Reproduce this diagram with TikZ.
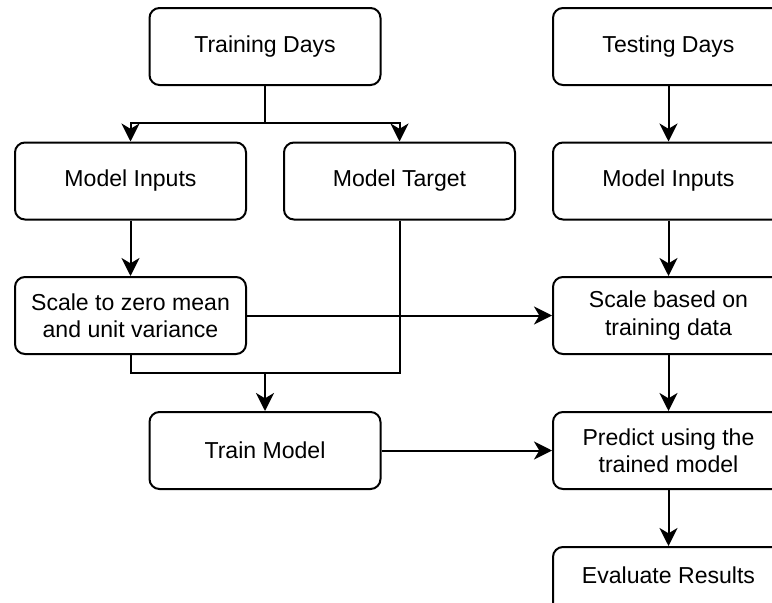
\documentclass[tikz,border=0pt]{standalone}
\usepackage{fontspec}
\setmainfont{Liberation Sans}
\usetikzlibrary{arrows.meta}
\begin{document}
\begin{tikzpicture}[x=0.75pt,y=-0.75pt,
  box/.style={draw, line width=1.5pt, rounded corners=7.5pt, minimum width=173.25pt, minimum height=57.75pt, align=center, font=\fontsize{17.3}{20.5}\selectfont, inner sep=2pt},
  conn/.style={line width=1.5pt},
  arr/.style={conn, -{Stealth[length=13.5pt,width=13.5pt,inset=4pt]}}]
\useasboundingbox (0,0) rectangle (772,603);
\clip (0,0) rectangle (772,603);
\fill[white] (0,0) rectangle (772,603);
\node[box] (td) at (265,46.5) {Training Days};
\node[box] (te) at (668.5,46.5) {Testing Days};
\node[box] (inL) at (130.5,181) {Model Inputs};
\node[box] (tg) at (399.5,181) {Model Target};
\node[box] (inR) at (668.5,181) {Model Inputs};
\node[box] (sL) at (130.5,315.5) {Scale to zero mean\\and unit variance};
\node[box] (sR) at (668.5,315.5) {Scale based on\\training data};
\node[box] (tr) at (265,450.5) {Train Model};
\node[box] (pr) at (668.5,450.5) {Predict using the\\trained model};
\node[box] (ev) at (668.5,585.5) {\raisebox{15.5pt}{Evaluate Results}};
\coordinate (j1) at (265,123);
\coordinate (j2) at (265,373);
\draw[conn] (td.south) -- (j1);
\draw[arr] (j1) -| (inL.north);
\draw[arr] (j1) -| (tg.north);
\draw[arr] (te) -- (inR);
\draw[arr] (inL) -- (sL);
\draw[arr] (inR) -- (sR);
\draw[arr] (sL) -- (sR);
\draw[conn] (sL.south) |- (j2);
\draw[conn] (tg.south) |- (j2);
\draw[arr] (j2) -- (tr.north);
\draw[arr] (tr) -- (pr);
\draw[arr] (sR) -- (pr);
\draw[arr] (pr) -- (ev);
\end{tikzpicture}
\end{document}
